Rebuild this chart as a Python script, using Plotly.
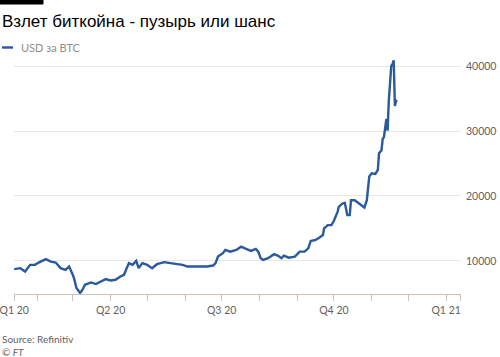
import plotly.graph_objects as go

# ---- data ----
dates = [
    "2020-01-13", "2020-01-18", "2020-01-22", "2020-01-26", "2020-01-30",
    "2020-02-02", "2020-02-08", "2020-02-12", "2020-02-16", "2020-02-20",
    "2020-02-24", "2020-02-27", "2020-03-01", "2020-03-02", "2020-03-04",
    "2020-03-06", "2020-03-07", "2020-03-09", "2020-03-11", "2020-03-16",
    "2020-03-20", "2020-03-24", "2020-03-28", "2020-04-01", "2020-04-05",
    "2020-04-09", "2020-04-12", "2020-04-14", "2020-04-16", "2020-04-19",
    "2020-04-22", "2020-04-24", "2020-04-27", "2020-05-01", "2020-05-05",
    "2020-05-09", "2020-05-15", "2020-05-20", "2020-05-26", "2020-05-30",
    "2020-06-03", "2020-06-08", "2020-06-14", "2020-06-19", "2020-06-24",
    "2020-06-26", "2020-06-28", "2020-07-02", "2020-07-04", "2020-07-08",
    "2020-07-13", "2020-07-17", "2020-07-21", "2020-07-25", "2020-07-29",
    "2020-07-31", "2020-08-02", "2020-08-04", "2020-08-08", "2020-08-13",
    "2020-08-16", "2020-08-19", "2020-08-21", "2020-08-25", "2020-08-30",
    "2020-09-03", "2020-09-07", "2020-09-10", "2020-09-12", "2020-09-16",
    "2020-09-19", "2020-09-22", "2020-09-23", "2020-09-26", "2020-09-29",
    "2020-10-01", "2020-10-04", "2020-10-05", "2020-10-08", "2020-10-10",
    "2020-10-12", "2020-10-14", "2020-10-15", "2020-10-18", "2020-10-20",
    "2020-10-23", "2020-10-26", "2020-10-28", "2020-10-30", "2020-11-01",
    "2020-11-04", "2020-11-06", "2020-11-07", "2020-11-09", "2020-11-10",
    "2020-11-11", "2020-11-12", "2020-11-13", "2020-11-14", "2020-11-15",
    "2020-11-17", "2020-11-18", "2020-11-19", "2020-11-20", "2020-11-21",
    "2020-11-22",
]
usd_per_btc = [
    8730, 8880, 8360, 9390, 9390,
    9740, 10260, 9890, 9740, 8880,
    8620, 9130, 7860, 7350, 5820,
    5300, 5050, 5560, 6320, 6680,
    6430, 6830, 7200, 6980, 7090,
    7600, 7860, 8800, 9650, 9390,
    10000, 8880, 9650, 9390, 8880,
    9490, 9800, 9650, 9490, 9390,
    9130, 9130, 9130, 9130, 9280,
    9650, 10660, 11180, 11680, 11420,
    11680, 12190, 11840, 11530, 11840,
    11420, 10410, 10150, 10410, 11030,
    10810, 10410, 10810, 10500, 10660,
    11420, 11420, 11940, 13060, 13220,
    13570, 13980, 15010, 15510, 15510,
    16170, 17550, 18320, 18840, 18930,
    17040, 17040, 19340, 19340, 19080,
    18580, 18220, 19340, 23000, 23500,
    23400, 24000, 26600, 27000, 28790,
    29040, 30320, 31850, 30060, 34650,
    40020, 40280, 40890, 33850, 34650,
    34600,
]
series_name = "USD за BTC"

tick_dates = ["2020-01-13", "2020-04-01", "2020-07-01", "2020-10-01", "2021-01-01"]
tick_labels = ["Q1 20", "Q2 20", "Q3 20", "Q4 20", "Q1 21"]
minor_dates = ["2020-02-01", "2020-03-01", "2020-05-01", "2020-06-01",
               "2020-08-01", "2020-09-01", "2020-11-01", "2020-12-01",
               "2021-01-13"]
y_ticks = [10000, 20000, 30000, 40000]
x_range = ["2020-01-12 20:00", "2021-01-13 04:00"]
y_range = [4900, 41400]

title_text = "Взлет биткойна - пузырь или шанс"
source_text = "Source: Refinitiv"
credit_text = "© FT"

# ---- layout geometry (pixels) ----
W, H = 500, 357
L, R, T, B = 14, 461, 57, 294

def px(x):
    return (x - L) / (R - L)

def py(y):
    return (B - y) / (B - T)

LINE = "#2a5a9c"
GREY = "#66605c"
AXIS = "#ccc1b7"
GRID = "#e9e7e3"

fig = go.Figure()
fig.add_trace(go.Scatter(
    x=dates, y=usd_per_btc, mode="lines", name=series_name,
    line=dict(color=LINE, width=2.4), showlegend=False,
))

fig.update_layout(
    width=W, height=H,
    margin=dict(l=L, r=W - R, t=T, b=H - B, pad=0, autoexpand=False),
    paper_bgcolor="white", plot_bgcolor="white",
    font=dict(family="Lato", color=GREY, size=11),
    title=dict(text=title_text, x=2 / W, xanchor="left", xref="container",
               y=1 - 21.5 / H, yanchor="middle",
               font=dict(family="Liberation Sans", size=17, color="#000000")),
    xaxis=dict(
        type="date", range=x_range, automargin=False,
        tickmode="array", tickvals=tick_dates, ticktext=tick_labels,
        ticks="outside", ticklen=6, tickcolor=AXIS, tickwidth=1,
        showline=True, linecolor=AXIS, linewidth=1,
        showgrid=False, zeroline=False,
        ticklabeloverflow="allow",
        tickfont=dict(size=10.5, color=GREY),
        minor=dict(tickmode="array", tickvals=minor_dates, ticks="outside",
                   ticklen=6, tickcolor=AXIS, tickwidth=1, showgrid=False),
    ),
    yaxis=dict(
        range=y_range, side="right", automargin=False,
        tickmode="array", tickvals=y_ticks, ticktext=[str(v) for v in y_ticks],
        showgrid=True, gridcolor=GRID, gridwidth=1,
        zeroline=False, showline=False, ticks="",
        ticklabeloverflow="allow",
        tickfont=dict(size=10.5, color=GREY),
        ticklabelstandoff=4,
    ),
    shapes=[
        dict(type="rect", xref="paper", yref="paper", layer="above",
             x0=px(0), x1=px(43), y0=py(4), y1=py(0),
             fillcolor="#000000", line=dict(color="#000000", width=1)),
        dict(type="line", xref="paper", yref="paper",
             x0=px(2), x1=px(13), y0=py(47.5), y1=py(47.5),
             line=dict(color=LINE, width=2.4)),
    ],
    annotations=[
        dict(text=series_name, xref="paper", yref="paper",
             x=px(19), y=py(47.5), xanchor="left", yanchor="middle",
             showarrow=False, font=dict(size=11, color="#938d88")),
        dict(text=source_text, xref="paper", yref="paper",
             x=px(0), y=py(339), xanchor="left", yanchor="middle",
             showarrow=False, font=dict(size=10, color=GREY)),
        dict(text="<i>" + credit_text + "</i>", xref="paper", yref="paper",
             x=px(0), y=py(351.5), xanchor="left", yanchor="middle",
             showarrow=False, font=dict(size=10, color=GREY)),
    ],
)

fig.write_html("out.html", config={"displayModeBar": False},
               post_script="document.body.style.margin='0px';document.body.style.padding='0px';")
